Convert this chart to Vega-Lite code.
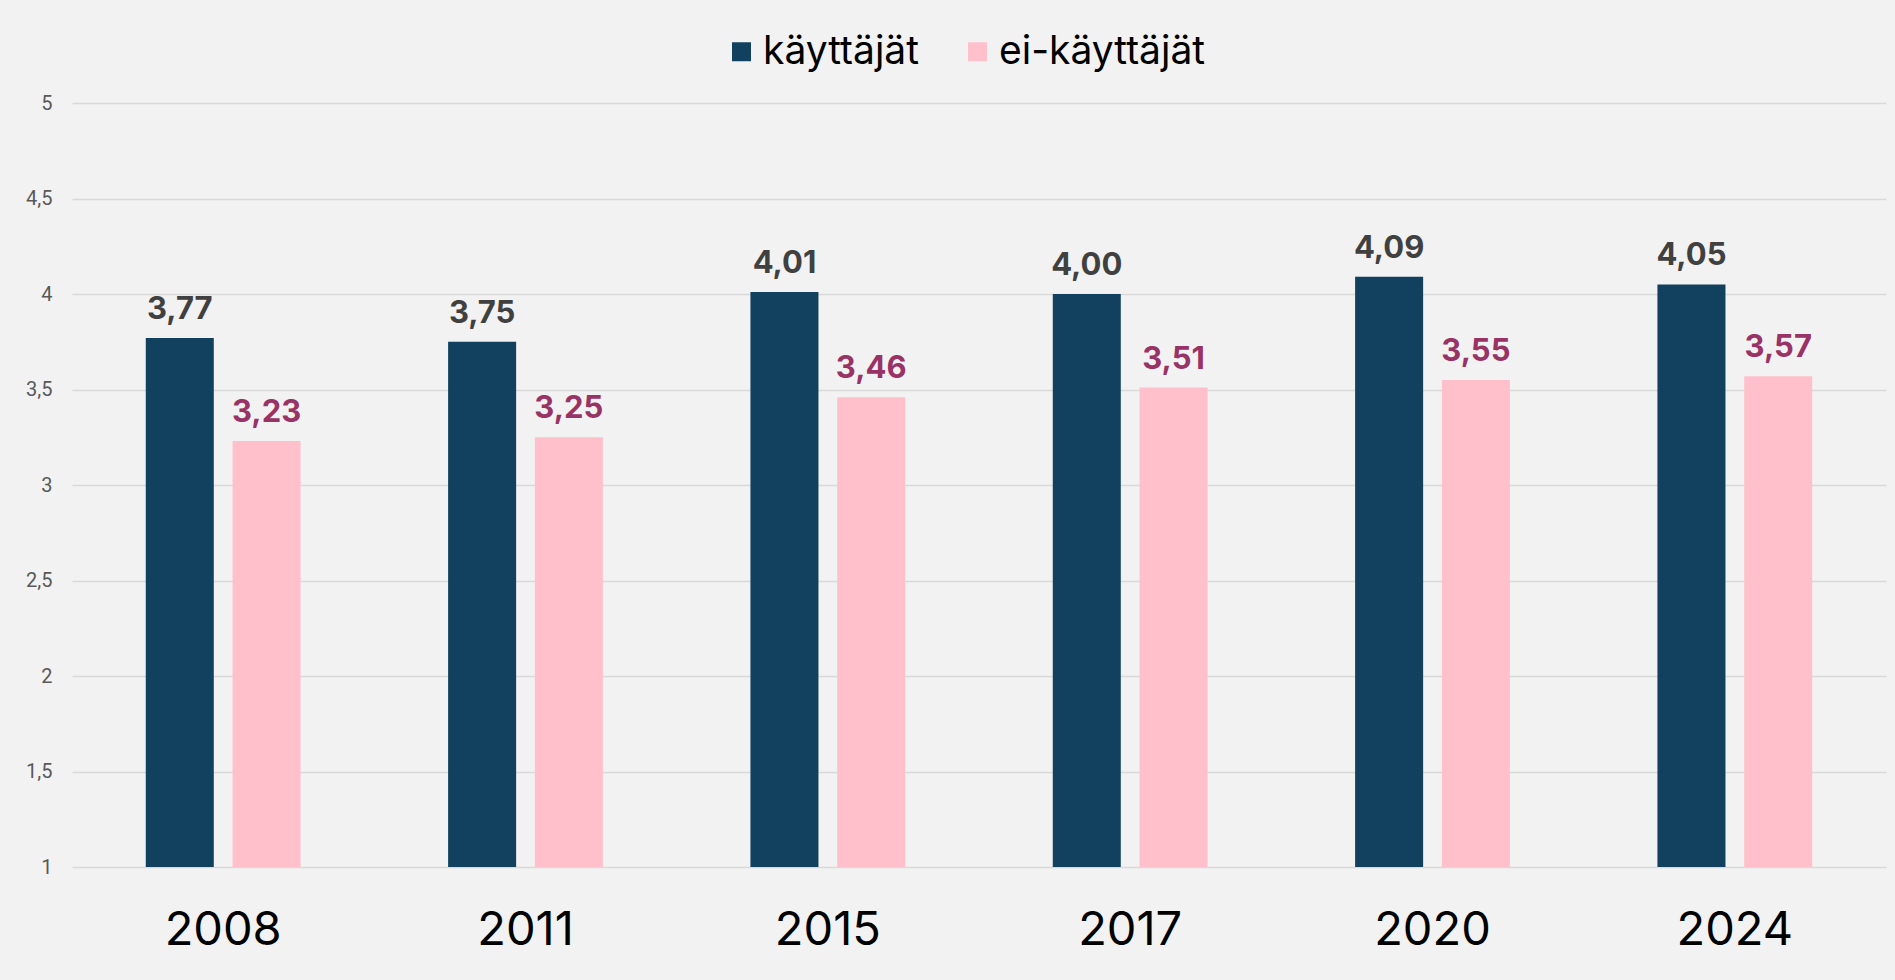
{
  "$schema": "https://vega.github.io/schema/vega-lite/v6.json",
  "autosize": {"type": "none"},
  "width": 1814,
  "height": 764,
  "padding": {"left": 72, "top": 103, "right": 9, "bottom": 113},
  "background": "#f2f2f2",
  "config": {
    "view": {"stroke": null},
    "locale": {"number": {"decimal": ",", "thousands": " ", "grouping": [3], "currency": ["", " €"]}}
  },
  "data": {
    "values": [
      {"year": "2008", "group": "käyttäjät", "value": 3.77},
      {"year": "2008", "group": "ei-käyttäjät", "value": 3.23},
      {"year": "2011", "group": "käyttäjät", "value": 3.75},
      {"year": "2011", "group": "ei-käyttäjät", "value": 3.25},
      {"year": "2015", "group": "käyttäjät", "value": 4.01},
      {"year": "2015", "group": "ei-käyttäjät", "value": 3.46},
      {"year": "2017", "group": "käyttäjät", "value": 4.00},
      {"year": "2017", "group": "ei-käyttäjät", "value": 3.51},
      {"year": "2020", "group": "käyttäjät", "value": 4.09},
      {"year": "2020", "group": "ei-käyttäjät", "value": 3.55},
      {"year": "2024", "group": "käyttäjät", "value": 4.05},
      {"year": "2024", "group": "ei-käyttäjät", "value": 3.57}
    ]
  },
  "encoding": {
    "x": {
      "field": "year", "type": "nominal",
      "scale": {"paddingInner": 0.488, "paddingOuter": 0.244},
      "axis": {
        "title": null, "labelAngle": 0, "domain": false, "ticks": false,
        "labelFont": "Inter", "labelFontSize": 47, "labelColor": "#000000",
        "labelPadding": 40
      }
    },
    "xOffset": {
      "field": "group", "type": "nominal",
      "sort": ["käyttäjät", "ei-käyttäjät"],
      "scale": {"paddingInner": 0.216, "paddingOuter": 0}
    },
    "y": {
      "field": "value", "type": "quantitative",
      "scale": {"domain": [1, 5], "zero": false, "nice": false},
      "axis": {
        "title": null, "domain": false, "ticks": false,
        "values": [1, 1.5, 2, 2.5, 3, 3.5, 4, 4.5, 5],
        "labelExpr": "replace(toString(datum.value), '.', ',')",
        "labelFont": "Roboto", "labelFontSize": 20, "labelColor": "#595959",
        "labelPadding": 20,
        "gridColor": "#d9d9d9", "gridWidth": 1.5
      }
    }
  },
  "layer": [
    {
      "mark": {"type": "bar"},
      "encoding": {
        "y2": {"datum": 1},
        "color": {
          "field": "group", "type": "nominal",
          "sort": ["käyttäjät", "ei-käyttäjät"],
          "scale": {"domain": ["käyttäjät", "ei-käyttäjät"], "range": ["#12405f", "#ffc0cb"]},
          "legend": {
            "title": null, "orient": "none", "direction": "horizontal",
            "legendX": 650, "legendY": -71,
            "symbolType": "square", "symbolSize": 361, "symbolStrokeWidth": 0,
            "symbolOpacity": 1,
            "labelFont": "Inter", "labelFontSize": 39, "labelColor": "#000000",
            "labelOffset": 2, "columnPadding": 39, "labelLimit": 0
          }
        }
      }
    },
    {
      "mark": {"type": "text", "baseline": "alphabetic", "dy": -19, "font": "Inter", "fontWeight": "bold", "fontSize": 31},
      "encoding": {
        "text": {"field": "value", "type": "quantitative", "format": ".2f"},
        "color": {
          "condition": {"test": "datum.group === 'käyttäjät'", "value": "#404040"},
          "value": "#993366"
        }
      }
    }
  ]
}
